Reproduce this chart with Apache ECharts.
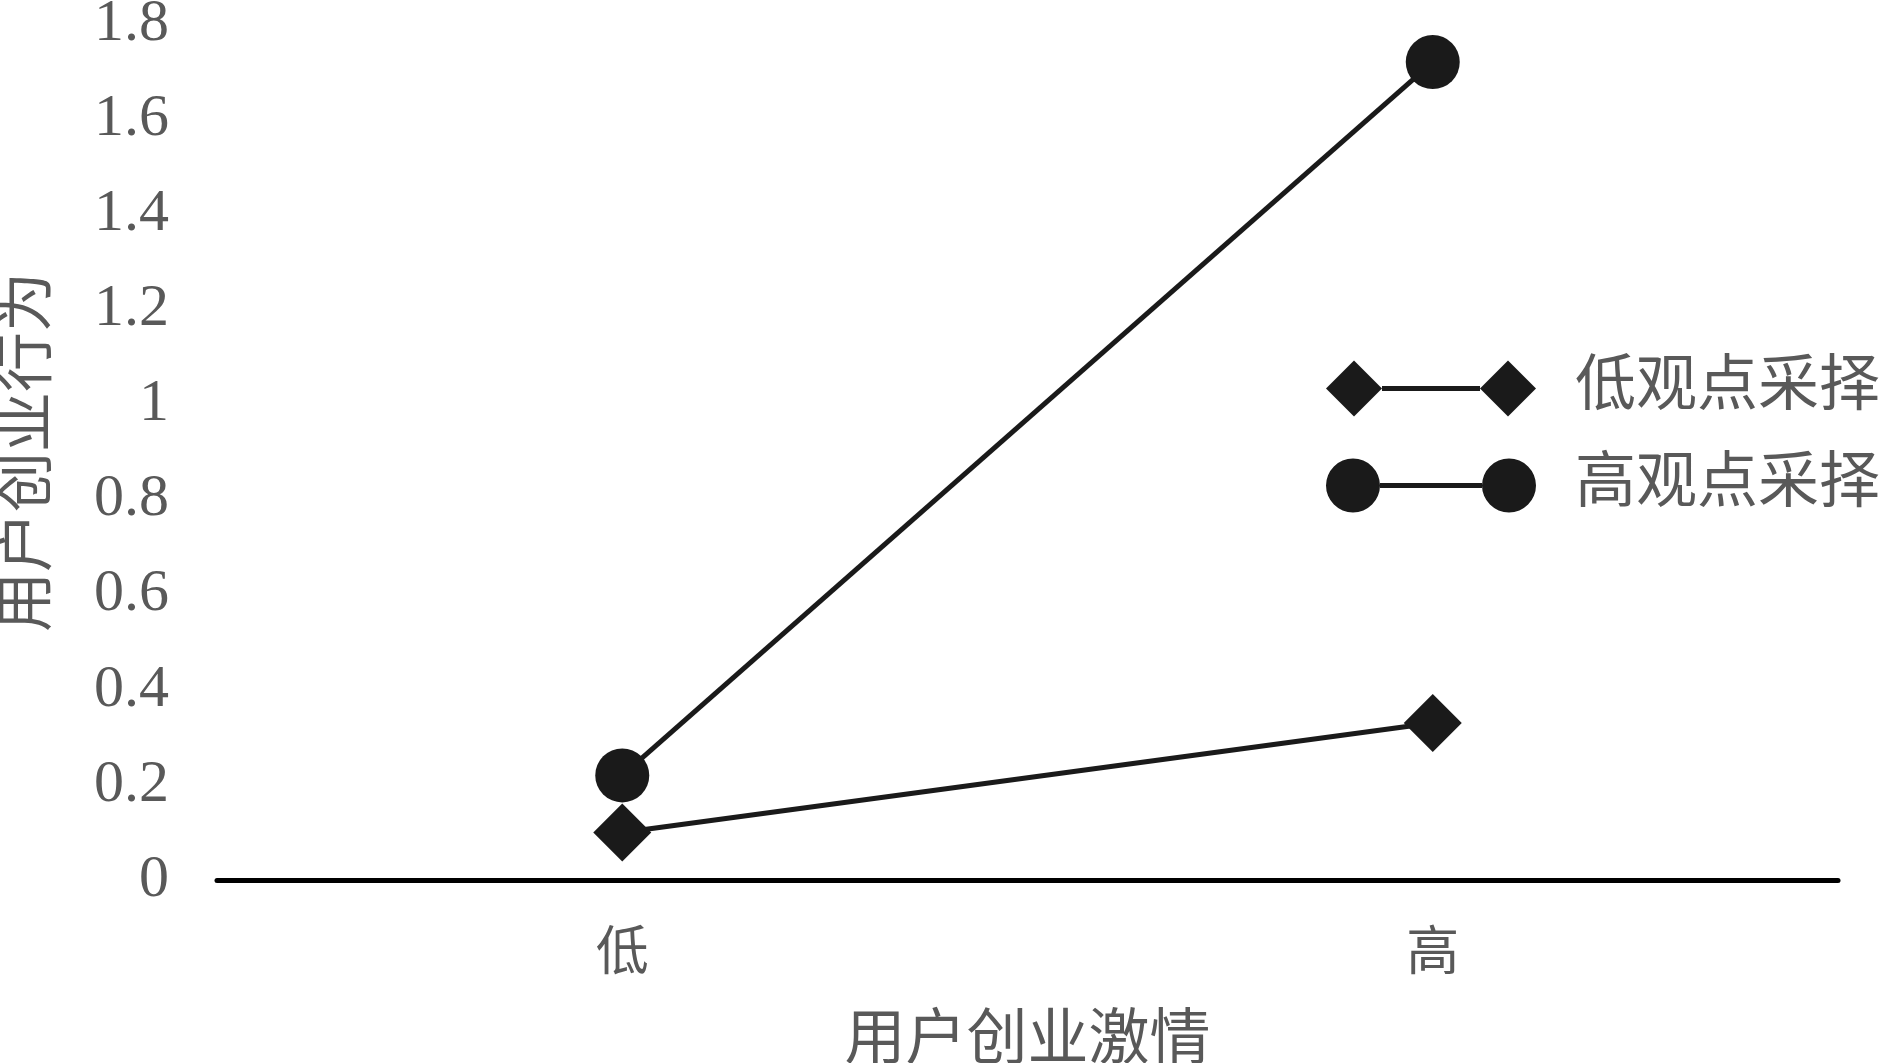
<!DOCTYPE html>
<html>
<head>
<meta charset="utf-8">
<script src="https://cdn.jsdelivr.net/npm/echarts@6/dist/echarts.min.js"></script>
<style>html,body{margin:0;padding:0;background:#fff;}#c{width:1893px;height:1063px;}</style>
</head>
<body>
<div id="c"></div>
<script>
const categories = ['低', '高'];
const seriesNames = ['低观点采择', '高观点采择'];
const lowPerspective = [0.10, 0.33];
const highPerspective = [0.22, 1.72];
const yAxisName = '用户创业行为';
const xAxisName = '用户创业激情';

const FONT = '"Liberation Serif", "Noto Sans CJK SC", serif';
const GRAY = '#595959';
const INK = '#1a1a1a';

const diamondIcon = 'path://M0,28 L28,0 L56,28 L28,56 Z M56,25.5 L154,25.5 L154,30.5 L56,30.5 Z M154,28 L182,0 L210,28 L182,56 Z';
const circleIcon = 'path://M0,28 A27,27 0 1,1 54,28 A27,27 0 1,1 0,28 Z M54,25.5 L156,25.5 L156,30.5 L54,30.5 Z M156,28 A27,27 0 1,1 210,28 A27,27 0 1,1 156,28 Z';

const chart = echarts.init(document.getElementById('c'));
chart.setOption({
  backgroundColor: '#fff',
  animation: false,
  grid: { left: 217, right: 55, top: 24, bottom: 183, containLabel: false, outerBoundsMode: 'none' },
  legend: {
    orient: 'vertical',
    left: 1321,
    top: 353,
    itemWidth: 210,
    itemHeight: 56,
    itemGap: 36,
    data: [
      { name: seriesNames[0], icon: diamondIcon },
      { name: seriesNames[1], icon: circleIcon }
    ],
    textStyle: { fontFamily: FONT, fontSize: 61, color: GRAY, padding: [0, 0, 0, 34] }
  },
  xAxis: {
    type: 'category',
    data: categories,
    boundaryGap: true,
    axisLine: { onZero: true, lineStyle: { color: '#000', width: 5 } },
    axisTick: { show: false },
    axisLabel: { fontFamily: FONT, fontSize: 53, color: GRAY, margin: 50 },
    name: xAxisName,
    nameLocation: 'middle',
    nameGap: 132,
    nameTextStyle: { fontFamily: FONT, fontSize: 61, color: GRAY }
  },
  yAxis: {
    type: 'value',
    min: 0,
    max: 1.8,
    interval: 0.2,
    axisLine: { show: false },
    axisTick: { show: false },
    splitLine: { show: false },
    axisLabel: { fontFamily: FONT, fontSize: 60, color: GRAY, margin: 48 },
    name: yAxisName,
    nameLocation: 'middle',
    nameGap: 157,
    nameRotate: 90,
    nameTextStyle: { fontFamily: FONT, fontSize: 60, color: GRAY }
  },
  series: [
    {
      name: seriesNames[0],
      type: 'line',
      data: lowPerspective,
      symbol: 'diamond',
      symbolSize: 58,
      color: INK,
      itemStyle: { color: INK, borderWidth: 0 },
      lineStyle: { color: INK, width: 5 }
    },
    {
      name: seriesNames[1],
      type: 'line',
      data: highPerspective,
      symbol: 'circle',
      symbolSize: 54,
      color: INK,
      itemStyle: { color: INK, borderWidth: 0 },
      lineStyle: { color: INK, width: 5 }
    }
  ]
});
</script>
</body>
</html>
